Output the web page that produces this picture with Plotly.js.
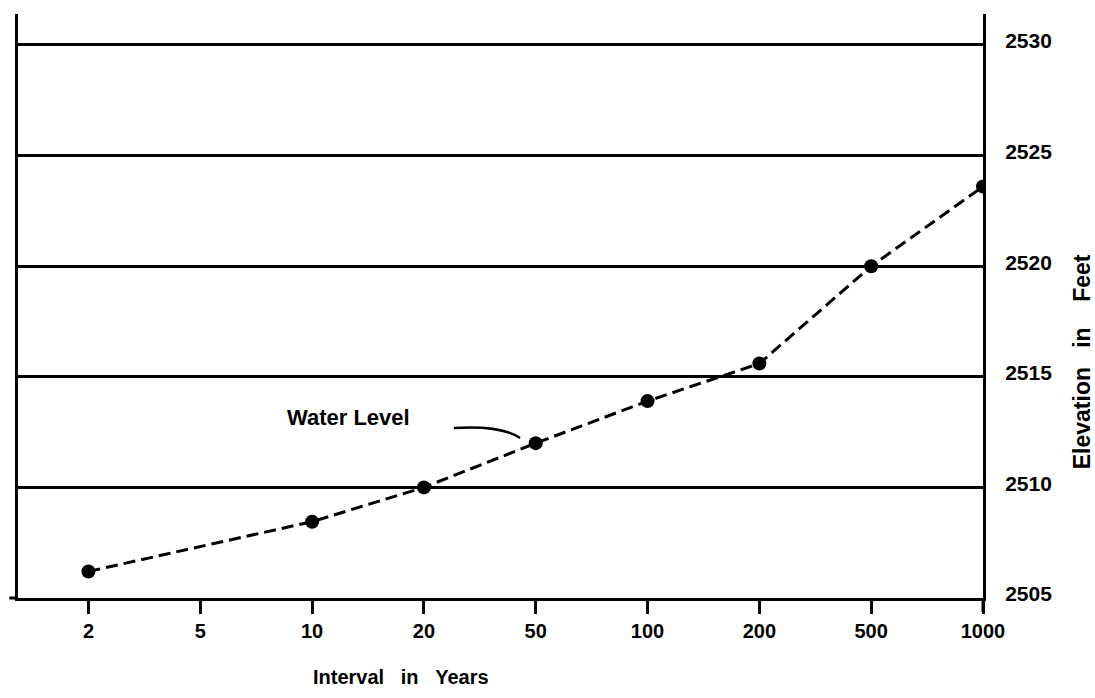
<!DOCTYPE html>
<html>
<head>
<meta charset="utf-8">
<script src="https://cdn.plot.ly/plotly-3.0.1.min.js"></script>
<style>html,body{margin:0;padding:0;background:#fff;}#chart{width:1095px;height:698px;}</style>
</head>
<body>
<div id="chart"></div>
<script>
// Recurrence intervals (years) and water level elevations (ft)
const intervals = ["2", "5", "10", "20", "50", "100", "200", "500", "1000"];
const pointIntervals = ["2", "10", "20", "50", "100", "200", "500", "1000"];
const waterLevel = [2506.2, 2508.45, 2510.0, 2512.0, 2513.9, 2515.6, 2520.0, 2523.6];
const elevTicks = [2505, 2510, 2515, 2520, 2525, 2530];

const FONT = "Liberation Sans, Arial, Helvetica, sans-serif";

const trace = {
  x: pointIntervals,
  y: waterLevel,
  type: "scatter",
  mode: "lines+markers",
  line: {color: "#000", width: 3, dash: "12px,6px"},
  marker: {color: "#000", size: 14},
  hoverinfo: "x+y",
  showlegend: false
};

const layout = {
  width: 1095,
  height: 698,
  margin: {l: 18, r: 112, t: 14, b: 100},
  paper_bgcolor: "#fff",
  plot_bgcolor: "#fff",
  font: {family: FONT, color: "#000", size: 20, weight: "bold"},
  xaxis: {
    type: "category",
    categoryorder: "array",
    categoryarray: intervals,
    tickvals: intervals,
    ticktext: intervals,
    range: [-0.63, 8],
    showgrid: false,
    zeroline: false,
    showline: true,
    linecolor: "#000",
    linewidth: 3,
    ticks: "outside",
    ticklen: 13,
    tickwidth: 3,
    tickcolor: "#000",
    tickfont: {family: FONT, size: 20, weight: "bold", color: "#000"}
  },
  yaxis: {
    side: "right",
    range: [2505, 2531.4],
    tickvals: elevTicks,
    ticktext: elevTicks.map(String),
    showgrid: true,
    gridcolor: "#000",
    gridwidth: 3,
    zeroline: false,
    showline: true,
    mirror: true,
    linecolor: "#000",
    linewidth: 3,
    ticks: "outside",
    ticklen: 15,
    tickcolor: "rgba(0,0,0,0)",
    ticklabelshift: -4,
    tickfont: {family: FONT, size: 21, weight: "bold", color: "#000"}
  },
  shapes: [
    {type: "line", xref: "paper", yref: "paper", x0: 1, x1: 1, y0: 0, y1: -0.024,
     line: {color: "#000", width: 3}},
    {type: "line", xref: "paper", yref: "paper", x0: -0.009, x1: 0, y0: 0, y1: 0,
     line: {color: "#000", width: 3}},
    {type: "path", xref: "paper", yref: "paper",
     path: "M 0.4517 0.2911 Q 0.5005 0.2962 0.5203 0.2740",
     line: {color: "#000", width: 2.5}}
  ],
  annotations: [
    {xref: "paper", yref: "paper", x: 0.342, y: 0.284, text: "Water Level",
     showarrow: false, font: {family: FONT, size: 22, weight: "bold", color: "#000"}},
    {x: "50", y: 2512.0, xref: "x", yref: "y", text: "", showarrow: true,
     ax: -16, ay: -6, arrowhead: 2, arrowsize: 1, arrowwidth: 2.5, arrowcolor: "#000", standoff: 9},
    {xref: "paper", yref: "paper", x: 1.1028, y: 0.404, text: "Elevation&nbsp;&nbsp;&nbsp;in&nbsp;&nbsp;&nbsp;&nbsp;Feet",
     textangle: -90, showarrow: false, xanchor: "center", yanchor: "middle",
     font: {family: FONT, size: 23, weight: "bold", color: "#000"}},
    {xref: "paper", yref: "paper", x: 0.397, y: -0.135, text: "Interval&nbsp;&nbsp;&nbsp;in&nbsp;&nbsp;&nbsp;Years",
     showarrow: false, xanchor: "center", yanchor: "middle",
     font: {family: FONT, size: 20, weight: "bold", color: "#000"}}
  ]
};

Plotly.newPlot("chart", [trace], layout, {displayModeBar: false, staticPlot: true});
</script>
</body>
</html>
